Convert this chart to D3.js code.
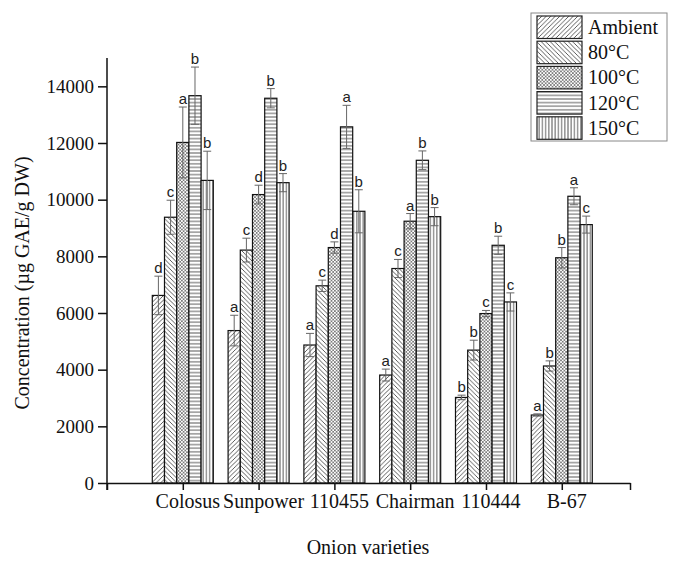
<!DOCTYPE html>
<html>
<head>
<meta charset="utf-8">
<script src="https://cdn.jsdelivr.net/npm/d3@7"></script>
<style>
  body { margin: 0; background: #fff; }
  svg { display: block; }
</style>
</head>
<body>
<div id="chart"></div>
<script>
// data
const varieties = ["Colosus", "Sunpower", "110455", "Chairman", "110444", "B-67"];
const treatments = ["Ambient", "80°C", "100°C", "120°C", "150°C"];
const ambient = [6620, 5380, 4870, 3810, 3020, 2400];
const t80 = [9380, 8220, 6960, 7570, 4690, 4130];
const t100 = [12020, 10180, 8310, 9240, 5980, 7950];
const t120 = [13670, 13580, 12570, 11390, 8390, 10120];
const t150 = [10680, 10600, 9590, 9400, 6390, 9120];
const errAmbient = [680, 540, 410, 210, 80, 40];
const err80 = [600, 420, 200, 320, 350, 180];
const err100 = [1250, 330, 200, 270, 110, 360];
const err120 = [1010, 340, 760, 330, 320, 300];
const err150 = [1030, 320, 760, 320, 320, 300];
const letters = [
    ["d", "a", "a", "a", "b", "a"],
    ["c", "c", "c", "c", "b", "b"],
    ["a", "d", "d", "a", "c", "b"],
    ["b", "b", "a", "b", "b", "a"],
    ["b", "b", "b", "b", "c", "c"]
];
const yTicks = [0, 2000, 4000, 6000, 8000, 10000, 12000, 14000];

const series = [ambient, t80, t100, t120, t150];
const errors = [errAmbient, err80, err100, err120, err150];

const width = 680, height = 561;
const svg = d3.select("#chart").append("svg")
    .attr("width", width)
    .attr("height", height);

// hatch patterns
let defs = svg.append("defs");
function hatch(id, size, lines, sw) {
    let p = defs.append("pattern")
        .attr("id", id)
        .attr("patternUnits", "userSpaceOnUse")
        .attr("width", size)
        .attr("height", size);
    p.append("rect").attr("width", size).attr("height", size).attr("fill", "#fff");
    lines.forEach(function(l) {
        p.append("path").attr("d", l)
            .attr("stroke", "#333")
            .attr("stroke-width", sw)
            .attr("fill", "none");
    });
}
hatch("p0", 4.5, ["M-1,5.5 L5.5,-1", "M-1,1 L1,-1", "M3.5,5.5 L5.5,3.5"], 0.8);
hatch("p1", 4.5, ["M-1,-1 L5.5,5.5", "M3.5,-1 L5.5,1", "M-1,3.5 L1,5.5"], 0.8);
hatch("p2", 3.4, ["M-1,-1 L4.4,4.4", "M-1,4.4 L4.4,-1"], 0.55);
hatch("p3", 3.6, ["M0,1.8 L3.6,1.8"], 0.8);
hatch("p4", 3.2, ["M1.6,0 L1.6,3.2"], 0.8);

const x = d3.scaleLinear().domain([0, 6.9]).range([107, 630]);
const y = d3.scaleLinear().domain([0, 15000]).range([483, 58]);
const barW = 12.2;

// bars
series.forEach(function(vals, si) {
    let g = svg.append("g");
    g.selectAll("rect")
        .data(vals)
        .enter().append("rect")
        .attr("x", function(d, i) { return x(i + 1) + (si - 2.5) * barW; })
        .attr("y", function(d) { return y(d); })
        .attr("width", barW)
        .attr("height", function(d) { return y(0) - y(d); })
        .attr("fill", "url(#p" + si + ")")
        .attr("stroke", "#111")
        .attr("stroke-width", 1.2);

    // error bars
    let eg = svg.append("g").attr("stroke", "#666").attr("stroke-width", 1);
    vals.forEach(function(d, i) {
        let cx = x(i + 1) + (si - 2) * barW;
        let e = errors[si][i];
        eg.append("line").attr("x1", cx).attr("x2", cx).attr("y1", y(d - e)).attr("y2", y(d + e));
        eg.append("line").attr("x1", cx - 4).attr("x2", cx + 4).attr("y1", y(d + e)).attr("y2", y(d + e));
        eg.append("line").attr("x1", cx - 4).attr("x2", cx + 4).attr("y1", y(d - e)).attr("y2", y(d - e));
        svg.append("text")
            .attr("x", cx)
            .attr("y", y(d + e) - 3)
            .attr("text-anchor", "middle")
            .attr("font-family", "Liberation Sans, Arial, sans-serif")
            .attr("font-size", "15px")
            .attr("fill", "#222")
            .text(letters[si][i]);
    });
});

// axes
let yAxis = svg.append("g")
    .attr("transform", "translate(107,0)")
    .call(d3.axisLeft(y).tickValues(yTicks).tickFormat(d3.format("d")).tickSize(9).tickPadding(4).tickSizeOuter(0));
yAxis.select(".domain").attr("d", "M0," + y(15000) + "V490");
let xAxis = svg.append("g")
    .attr("transform", "translate(0,483)")
    .call(d3.axisBottom(x).tickValues([0, 1, 2, 3, 4, 5, 6, 6.9]).tickSize(7).tickFormat("").tickSizeOuter(0));
[yAxis, xAxis].forEach(function(a) {
    a.selectAll("path, line").attr("stroke", "#111").attr("stroke-width", 1.5);
    a.selectAll("text")
        .attr("font-family", "Liberation Serif, Times New Roman, serif")
        .attr("font-size", "19px")
        .attr("fill", "#111");
});

svg.append("g").selectAll("text")
    .data(varieties)
    .enter().append("text")
    .attr("x", function(d, i) { return x(i + 1) + 5; })
    .attr("y", 508)
    .attr("text-anchor", "middle")
    .attr("font-family", "Liberation Serif, Times New Roman, serif")
    .attr("font-size", "20px")
    .attr("fill", "#111")
    .text(function(d) { return d; });

svg.append("text")
    .attr("x", 368)
    .attr("y", 554)
    .attr("text-anchor", "middle")
    .attr("font-family", "Liberation Serif, Times New Roman, serif")
    .attr("font-size", "20px")
    .attr("fill", "#111")
    .text("Onion varieties");

svg.append("text")
    .attr("transform", "translate(29,283) rotate(-90)")
    .attr("text-anchor", "middle")
    .attr("font-family", "Liberation Serif, Times New Roman, serif")
    .attr("font-size", "20px")
    .attr("fill", "#111")
    .text("Concentration (µg GAE/g DW)");

// legend
let legend = svg.append("g");
legend.append("rect")
    .attr("x", 531).attr("y", 13)
    .attr("width", 136).attr("height", 128)
    .attr("fill", "#fff")
    .attr("stroke", "#888")
    .attr("stroke-width", 1);
treatments.forEach(function(t, i) {
    legend.append("rect")
        .attr("x", 537).attr("y", 16 + i * 25.2)
        .attr("width", 45).attr("height", 22.5)
        .attr("fill", "url(#p" + i + ")")
        .attr("stroke", "#222")
        .attr("stroke-width", 1.2);
    legend.append("text")
        .attr("x", 588).attr("y", 34 + i * 25.2)
        .attr("font-family", "Liberation Serif, Times New Roman, serif")
        .attr("font-size", "20px")
        .attr("fill", "#111")
        .text(t);
});
</script>
</body>
</html>
